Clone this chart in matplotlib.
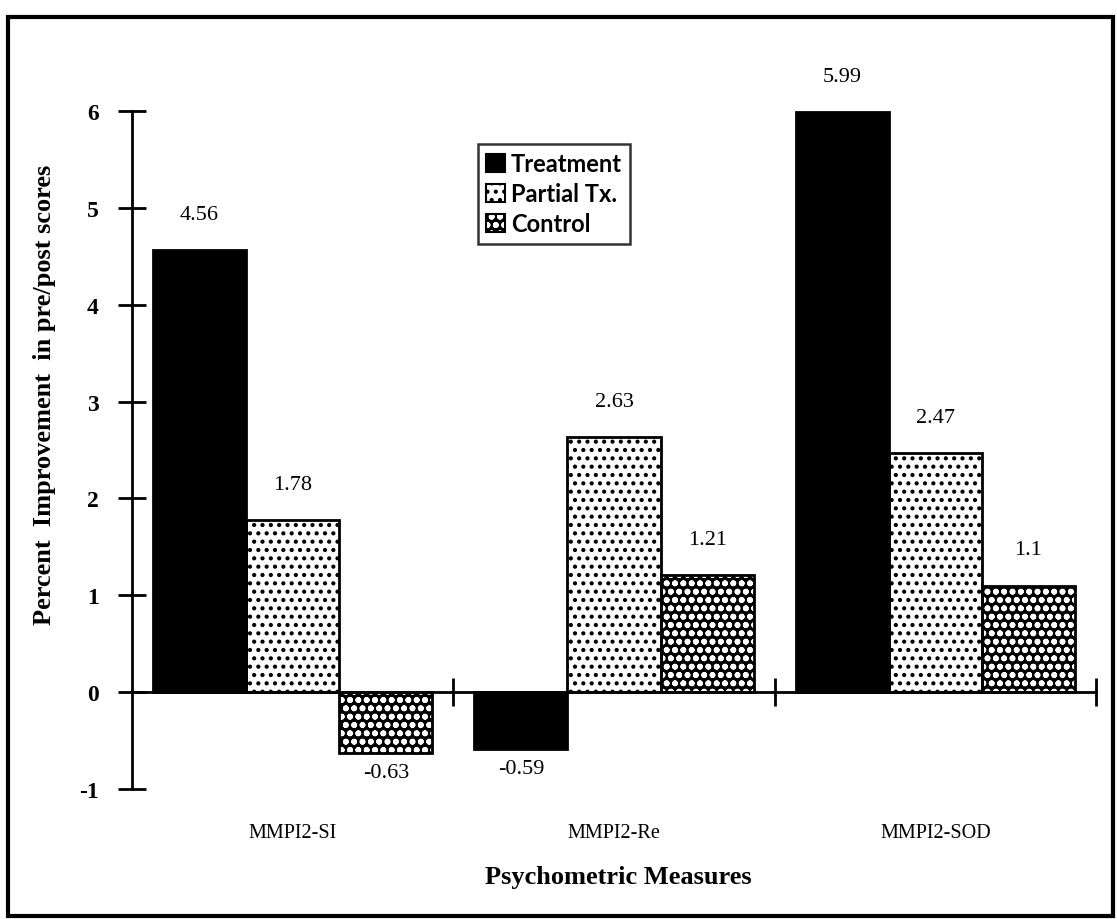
import numpy as np
import matplotlib
matplotlib.use("Agg")
import matplotlib.pyplot as plt
from matplotlib.patches import Patch, Rectangle

measures = ["MMPI2-SI", "MMPI2-Re", "MMPI2-SOD"]
groups = ["Treatment", "Partial Tx.", "Control"]
treatment = [4.56, -0.59, 5.99]
partial = [1.78, 2.63, 2.47]
control = [-0.63, 1.21, 1.1]
yticks = [-1, 0, 1, 2, 3, 4, 5, 6]

plt.rcParams["hatch.linewidth"] = 1.8
serif = "Liberation Serif"
W, H = 1117, 920
fig = plt.figure(figsize=(W / 100, H / 100), dpi=100)
ax = fig.add_axes([132 / W, 1 - 790 / H, 964 / W, 678 / H])

x = np.arange(len(measures))
bw = 0.29

# each series: face, hatch colour, hatch
styles = [("black", "black", None), ("white", "black", ".."), ("black", "white", "oo")]
series = [treatment, partial, control]

for k, (vals, (fc, hc, hatch)) in enumerate(zip(series, styles)):
    xs = x + (k - 1) * bw
    ax.bar(xs, vals, bw, facecolor=fc, edgecolor=hc, hatch=hatch, linewidth=0, zorder=2)
    ax.bar(xs, vals, bw, facecolor="none", edgecolor="black", linewidth=2, zorder=3)
    for xi, v in zip(xs, vals):
        if v >= 0:
            ax.text(xi, v + 0.27, f"{v:g}", ha="center", va="bottom", fontsize=16, family=serif)
        else:
            ax.text(xi, v - 0.1, f"{v:g}", ha="center", va="top", fontsize=16, family=serif)

ax.set_xlim(-0.5, 2.5)
ax.set_ylim(-1, 6)
for s in ["top", "right"]:
    ax.spines[s].set_visible(False)
ax.spines["bottom"].set_position(("data", 0))
ax.spines["bottom"].set_linewidth(2)
ax.spines["left"].set_linewidth(2)
ax.set_yticks(yticks)
ax.set_yticklabels([str(t) for t in yticks], family=serif, fontsize=17, fontweight="bold")
ax.tick_params(axis="y", direction="inout", length=20, width=2, pad=14)
ax.set_xticks([0.5, 1.5, 2.5])
ax.set_xticklabels([])
ax.tick_params(axis="x", direction="inout", length=20, width=2)

for xi, m in zip(x, measures):
    ax.text(xi, -1.45, m, ha="center", va="center", fontsize=14.5, family=serif)

fig.text(618 / W, 1 - 878 / H, "Psychometric Measures", ha="center", va="center",
         fontsize=19, fontweight="bold", family=serif)
fig.text(45 / W, 1 - 395 / H, "Percent  Improvement  in pre/post scores", ha="center", va="center",
         rotation=90, fontsize=19, fontweight="bold", family=serif)

# legend swatches: texture patch with a black outline laid over it
handles = [(Patch(facecolor=fc, edgecolor=hc, hatch=h, linewidth=0),
            Patch(facecolor="none", edgecolor="black", linewidth=1.5)) for fc, hc, h in styles]
leg = ax.legend(handles, groups, loc="upper left", bbox_to_anchor=(478 / W, 1 - 145 / H),
                bbox_transform=fig.transFigure, frameon=True, fancybox=False,
                prop={"family": "Lato", "weight": "bold", "size": 17},
                handlelength=0.8, handleheight=0.8, handletextpad=0.25,
                borderpad=0.35, labelspacing=0.3, borderaxespad=0)
leg.get_frame().set_edgecolor("black")
leg.get_frame().set_linewidth(1.8)

fig.patches.append(Rectangle((8 / W, 1 - 917 / H), 1105 / W, 899 / H, transform=fig.transFigure,
                             fill=False, edgecolor="black", linewidth=3))

fig.savefig("out.png", dpi=100)
